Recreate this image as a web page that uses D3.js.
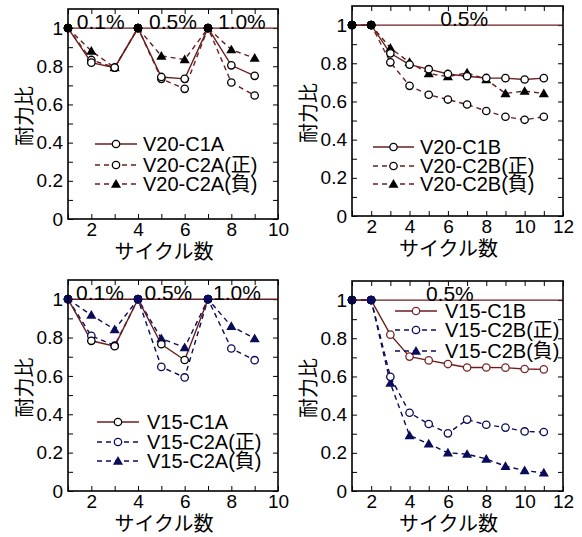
<!DOCTYPE html>
<html><head><meta charset="utf-8">
<script src="https://cdn.jsdelivr.net/npm/d3@7"></script>
<style>
body{margin:0;background:#fff;}
svg{display:block;font-family:"Liberation Sans",Arial,"Noto Sans CJK JP",sans-serif;}
</style></head>
<body><svg id="c" width="582" height="537"></svg>
<script>
// ---- data ----
const cyclesA = [1,2,3,4,5,6,7,8,9];
const cyclesB = [1,2,3,4,5,6,7,8,9,10,11];
const v20_C1A     = [1,0.819,0.793,1,0.744,0.734,1,0.805,0.750];
const v20_C2A_pos = [1,0.833,0.793,1,0.734,0.682,1,0.715,0.647];
const v20_C2A_neg = [1,0.880,0.793,1,0.854,0.835,1,0.887,0.843];
const v20_C1B     = [1,1,0.852,0.793,0.769,0.744,0.732,0.723,0.722,0.715,0.722];
const v20_C2B_pos = [1,1,0.805,0.682,0.635,0.610,0.584,0.550,0.520,0.504,0.520];
const v20_C2B_neg = [1,1,0.880,0.805,0.746,0.730,0.750,0.715,0.642,0.654,0.642];
const v15_C1A     = [1,0.783,0.755,1,0.765,0.683,1];
const v15_C2A_pos = [1,0.809,0.758,1,0.647,0.592,1,0.743,0.682];
const v15_C2A_neg = [1,0.917,0.842,1,0.795,0.748,1,0.859,0.795];
const v15_C1B     = [1,1,0.819,0.704,0.684,0.665,0.647,0.647,0.646,0.639,0.637];
const v15_C2B_pos = [1,1,0.598,0.410,0.351,0.302,0.374,0.347,0.332,0.312,0.309];
const v15_C2B_neg = [1,1,0.565,0.291,0.247,0.200,0.193,0.168,0.130,0.107,0.095];
const yTickLabels = ["0","0.2","0.4","0.6","0.8","1"];
const xLabel = "サイクル数";
const yLabel = "耐力比";

// ---- styles ----
const BROWN = "#6b1e1e", NAVY = "#0b0b5c", BLACK = "#000";

const panels = [
  {left:68, top:9, w:210, h:210, xMax:10,
   notes:[["0.1%",2.4],["0.5%",5.5],["1.0%",8.45]],
   legend:{x0:95, x1:137, tx:143, ys:[144,165,184]},
   series:[
     {name:"V20-C1A", x:cyclesA, y:v20_C1A, line:BROWN, dash:null, mk:"circle", mkStroke:BLACK, fill:BLACK},
     {name:"V20-C2A(正)", x:cyclesA, y:v20_C2A_pos, line:BROWN, dash:"5,4", mk:"circle", mkStroke:BLACK, fill:BLACK},
     {name:"V20-C2A(負)", x:cyclesA, y:v20_C2A_neg, line:BROWN, dash:"5,4", mk:"tri", mkStroke:BLACK, fill:BLACK}]},
  {left:352, top:6, w:211, h:210, xMax:12,
   notes:[["0.5%",6.85]],
   legend:{x0:373, x1:414, tx:420, ys:[147,166,184]},
   series:[
     {name:"V20-C1B", x:cyclesB, y:v20_C1B, line:BROWN, dash:null, mk:"circle", mkStroke:BLACK, fill:BLACK},
     {name:"V20-C2B(正)", x:cyclesB, y:v20_C2B_pos, line:BROWN, dash:"5,4", mk:"circle", mkStroke:BLACK, fill:BLACK},
     {name:"V20-C2B(負)", x:cyclesB, y:v20_C2B_neg, line:BROWN, dash:"5,4", mk:"tri", mkStroke:BLACK, fill:BLACK}]},
  {left:68, top:280, w:210, h:211, xMax:10,
   notes:[["0.1%",2.37],["0.5%",5.3],["1.0%",8.24]],
   legend:{x0:97, x1:139, tx:147, ys:[422,442,461]},
   series:[
     {name:"V15-C1A", x:cyclesA, y:v15_C1A, line:BROWN, dash:null, mk:"circle", mkStroke:BLACK, fill:NAVY},
     {name:"V15-C2A(正)", x:cyclesA, y:v15_C2A_pos, line:NAVY, dash:"5,4", mk:"circle", mkStroke:NAVY, fill:NAVY},
     {name:"V15-C2A(負)", x:cyclesA, y:v15_C2A_neg, line:NAVY, dash:"5,4", mk:"tri", mkStroke:NAVY, fill:NAVY}]},
  {left:352, top:281, w:211, h:210, xMax:12,
   notes:[["0.5%",6.1]],
   legend:{x0:395, x1:437, tx:445, ys:[311,330,351]},
   series:[
     {name:"V15-C1B", x:cyclesB, y:v15_C1B, line:BROWN, dash:null, mk:"circle", mkStroke:"#7a2626", fill:NAVY},
     {name:"V15-C2B(正)", x:cyclesB, y:v15_C2B_pos, line:NAVY, dash:"5,4", mk:"circle", mkStroke:NAVY, fill:NAVY},
     {name:"V15-C2B(負)", x:cyclesB, y:v15_C2B_neg, line:NAVY, dash:"5,4", mk:"tri", mkStroke:NAVY, fill:NAVY}]}
];

const svg = d3.select("#c");
const tri = d3.symbol().type(d3.symbolTriangle).size(44);

function drawMarker(g, s, px, py, val) {
  if (val === 1) {
    g.append("circle").attr("cx",px).attr("cy",py).attr("r",4).attr("fill",s.fill).attr("stroke",s.fill);
  } else if (s.mk === "circle") {
    g.append("circle").attr("cx",px).attr("cy",py).attr("r",3.7)
      .attr("fill","#fff").attr("stroke",s.mkStroke).attr("stroke-width",1.3);
  } else {
    g.append("path").attr("d",tri).attr("transform",`translate(${px},${py+0.8})`).attr("fill",s.fill);
  }
}

panels.forEach(p => {
  const g = svg.append("g").attr("transform",`translate(${p.left},${p.top})`);
  const x = d3.scaleLinear().domain([1,p.xMax]).range([0,p.w]);
  const y = d3.scaleLinear().domain([0,1.1]).range([p.h,0]);
  const xt = d3.range(1,p.xMax+1);
  const yt = d3.range(0,11).map(i=>i/10);
  const fmtY = d => (Math.round(d*10)%2===0) ? yTickLabels[Math.round(d*5)] : "";

  const ax = (a) => a.tickSizeOuter(0).tickSizeInner(-5).tickPadding(5);
  g.append("g").attr("transform",`translate(0,${p.h})`)
    .call(ax(d3.axisBottom(x).tickValues(xt).tickFormat(d=> d%2===0? d : "")).tickPadding(4));
  g.append("g").call(ax(d3.axisTop(x).tickValues(xt).tickFormat("")));
  g.append("g").call(ax(d3.axisLeft(y).tickValues(yt).tickFormat(fmtY)));
  g.append("g").attr("transform",`translate(${p.w},0)`)
    .call(ax(d3.axisRight(y).tickValues(yt).tickFormat("")));
  g.selectAll(".domain").remove();
  g.selectAll(".tick line").attr("stroke","#000").attr("stroke-width",1);
  g.selectAll(".tick text").attr("font-size",19).attr("fill","#000")
    .attr("font-family","'Liberation Sans',Arial,sans-serif");

  // reference line at 1
  g.append("line").attr("x1",0).attr("x2",p.w).attr("y1",y(1)).attr("y2",y(1))
    .attr("stroke",BROWN).attr("stroke-width",1.4);

  // annotations
  p.notes.forEach(([t,xv]) => {
    g.append("text").attr("x",x(xv)).attr("y",y(1)+1).attr("text-anchor","middle")
      .attr("font-size",21).text(t);
  });

  // lines (draw in reverse so solid line on top)
  const line = d3.line().x(d=>d[0]).y(d=>d[1]);
  p.series.slice().reverse().forEach(s => {
    const pts = s.y.map((v,i)=>[x(s.x[i]), y(v)]);
    g.append("path").attr("d",line(pts)).attr("fill","none")
      .attr("stroke",s.line).attr("stroke-width",1.4)
      .attr("stroke-dasharray",s.dash);
  });
  p.series.slice().reverse().forEach(s => {
    s.y.forEach((v,i)=>drawMarker(g, s, x(s.x[i]), y(v), v));
  });

  // frame
  g.append("rect").attr("width",p.w).attr("height",p.h).attr("fill","none")
    .attr("stroke","#000").attr("stroke-width",1.6);

  // legend
  const L = p.legend;
  p.series.forEach((s,i) => {
    const ly = L.ys[i];
    svg.append("line").attr("x1",L.x0).attr("x2",L.x1).attr("y1",ly).attr("y2",ly)
      .attr("stroke",s.line).attr("stroke-width",1.4).attr("stroke-dasharray",s.dash);
    drawMarker(svg, s, (L.x0+L.x1)/2, ly, null);
    svg.append("text").attr("x",L.tx).attr("y",ly+7).attr("font-size",20).text(s.name);
  });

  // axis titles
  svg.append("text").attr("x",p.left+p.w/2-9).attr("y",p.top+p.h+39.5)
    .attr("text-anchor","middle").attr("font-size",20)
    .attr("font-family","'Noto Sans CJK JP',sans-serif").text(xLabel);
  const yc = p.top + p.h/2 + 2;
  const xc = p.left - 36;
  svg.append("text").attr("transform",`translate(${xc},${yc}) rotate(-90)`)
    .attr("text-anchor","middle").attr("font-size",20)
    .attr("font-family","'Noto Sans CJK JP',sans-serif").text(yLabel);
});
</script></body></html>
